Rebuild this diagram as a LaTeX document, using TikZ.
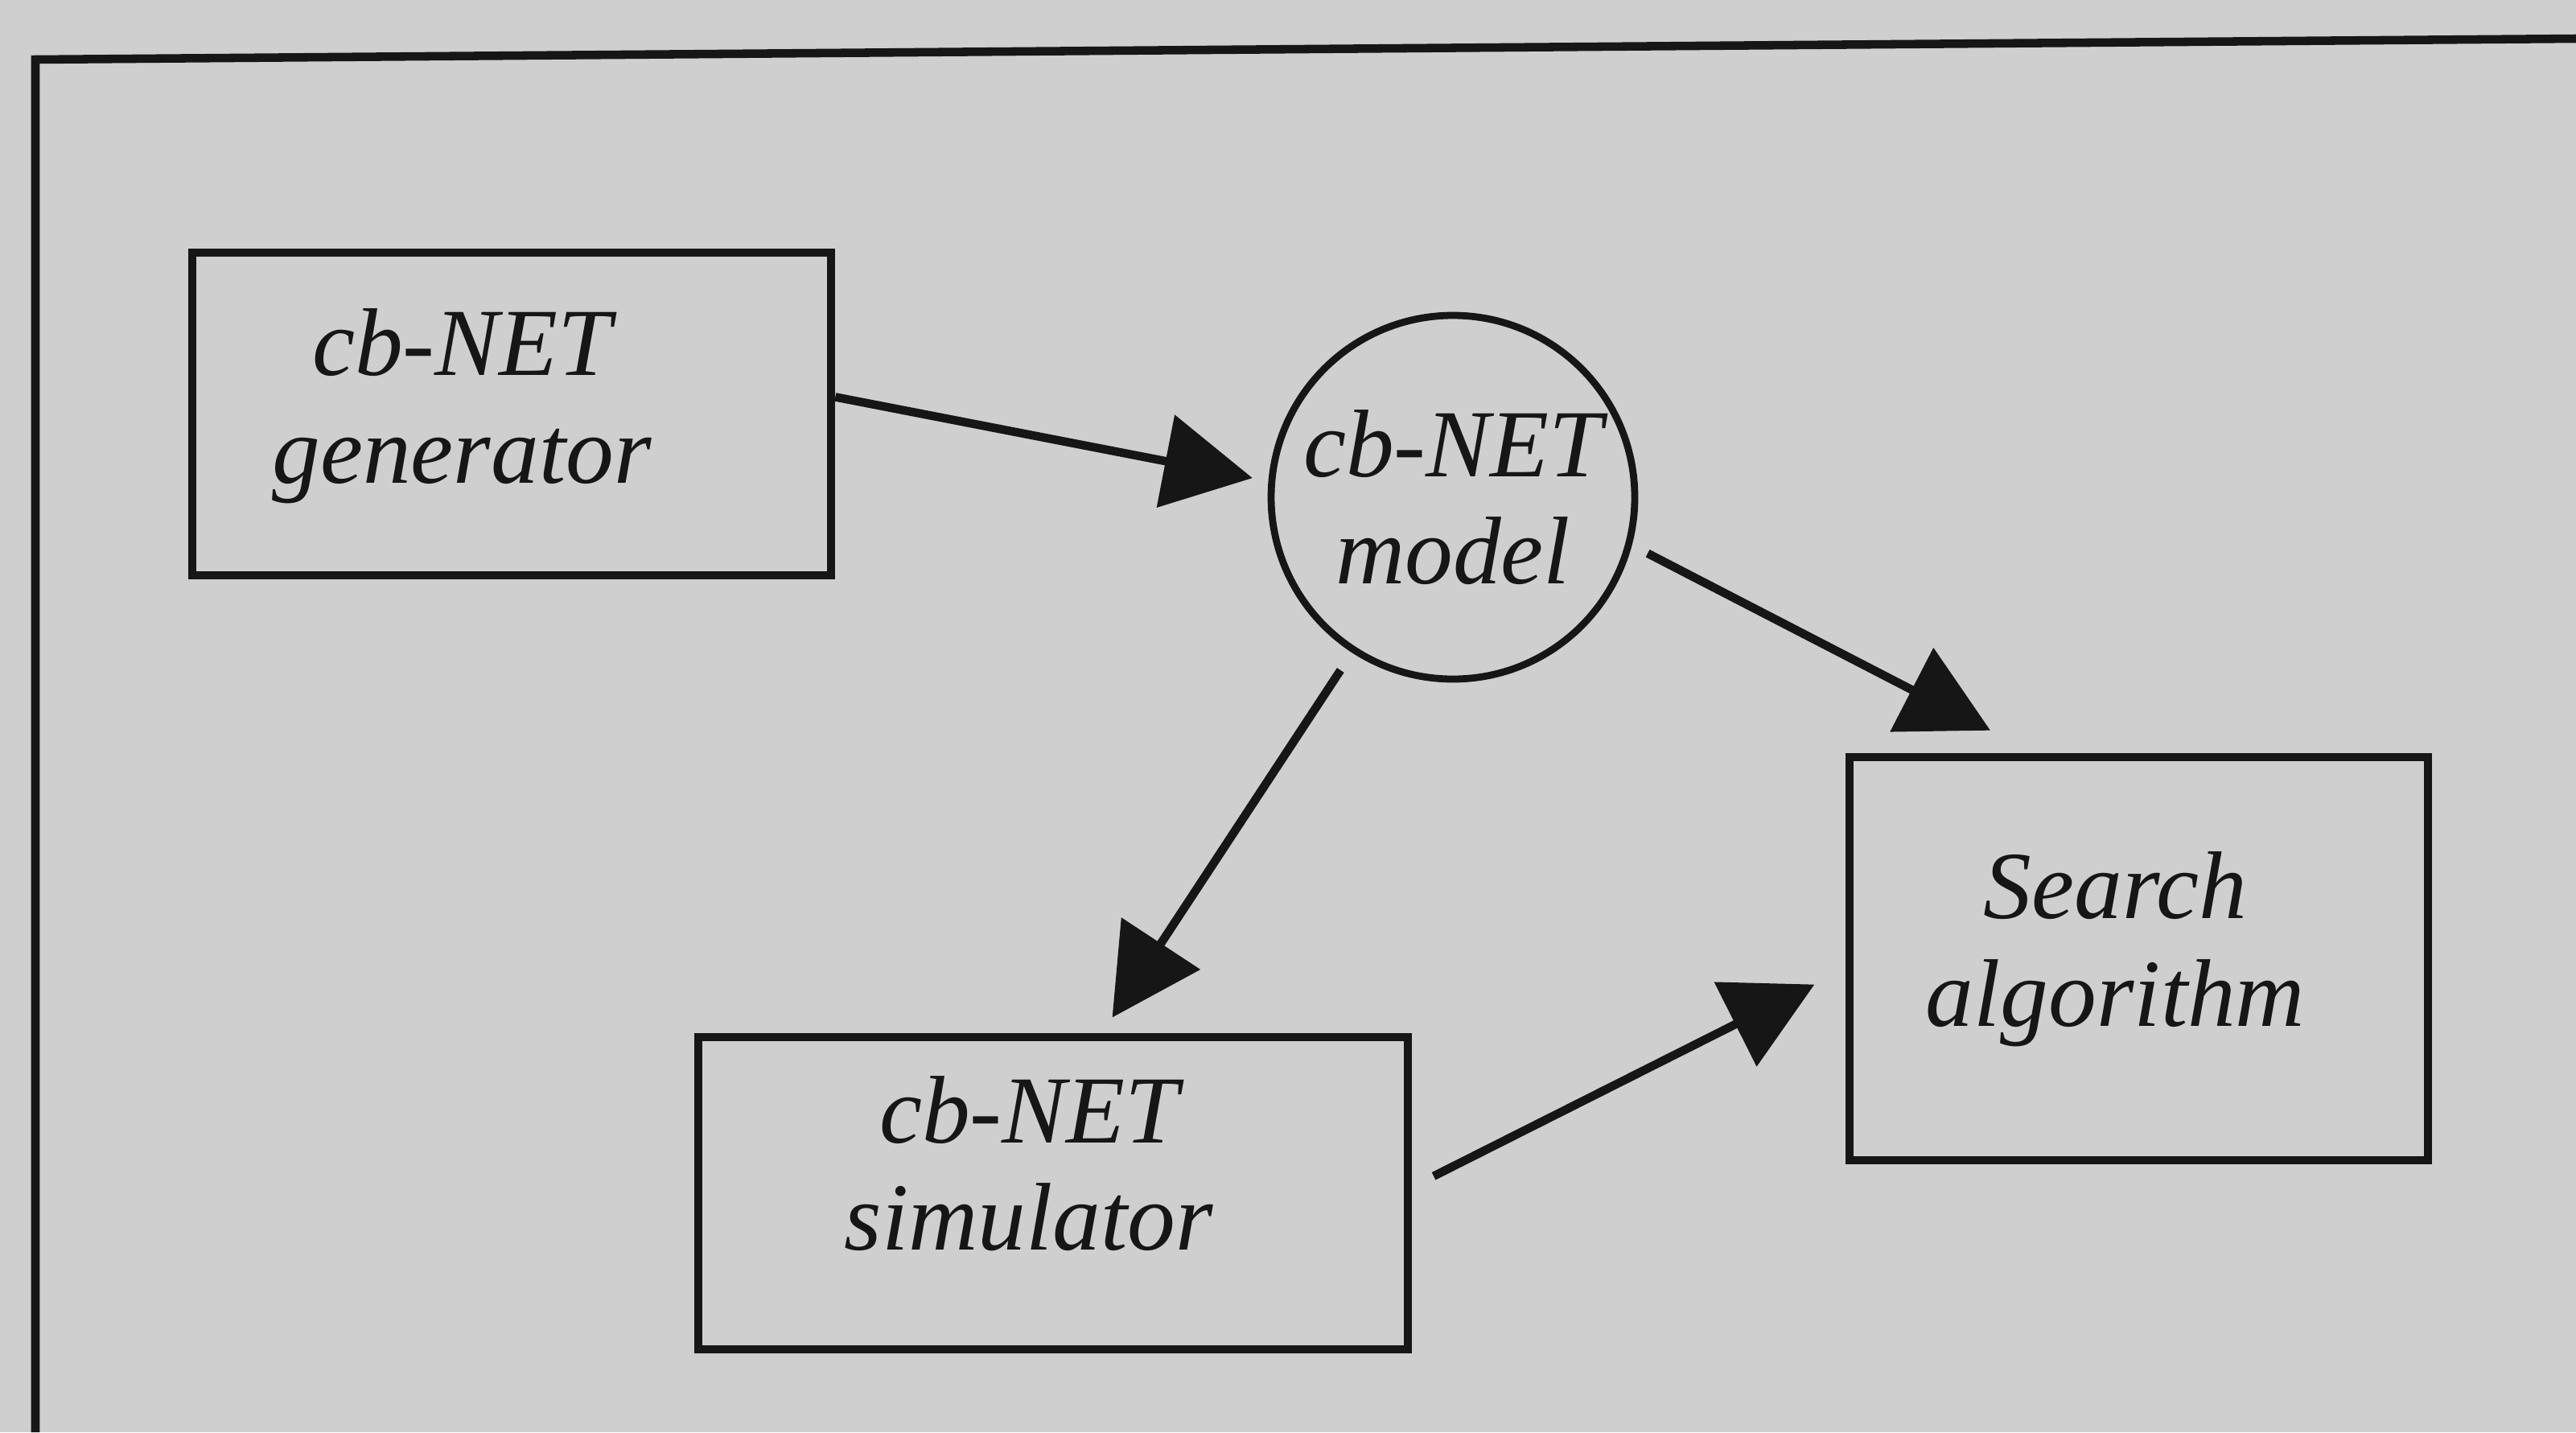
\documentclass[tikz,border=0pt]{standalone}
\usepackage{fontspec}
\setmainfont{Liberation Serif}
\usetikzlibrary{arrows.meta,positioning}
\definecolor{scan}{RGB}{207,207,207}
\definecolor{ink}{RGB}{22,22,22}

\begin{document}
\begin{tikzpicture}[>={Triangle[length=11mm,width=11.5mm]},
 font=\fontsize{34}{38}\selectfont\itshape,
 box/.style={draw=ink,line width=3pt,inner sep=0pt},
 txt/.style={align=center,text=ink},
 arr/.style={->,draw=ink,line width=3pt}]
 \fill[scan] (0,0) rectangle (32.02,-17.80);
 \useasboundingbox (0,0) rectangle (32.02,-17.80);
 \draw[ink,line width=3pt] (0.44,-17.80) -- (0.44,-0.74) -- (32.02,-0.48);
 \node[box,minimum width=7.94cm,minimum height=4.01cm,
   label={[txt,xshift=-6.2mm,yshift=1mm]center:{cb-NET\\generator}}] (gen) at (6.36,-5.145) {};
 \node[box,circle,line width=2.5pt,minimum size=4.52cm,txt] (model) at (18.06,-6.18) {cb-NET\\model};
 \node[box,minimum width=8.82cm,minimum height=3.88cm,
   label={[txt,xshift=-3mm,yshift=3.7mm]center:{cb-NET\\simulator}}] (sim) at (13.09,-14.83) {};
 \node[box,minimum width=7.19cm,minimum height=5.01cm,
   label={[txt,xshift=-2.9mm,yshift=1.2mm]center:{Search\\algorithm}}] (search) at (26.585,-11.915) {};
 \draw[arr,shorten >=2mm] (gen.3) -- (model.175);
 \draw[arr,shorten <=2.2mm,shorten >=6.1mm] (model.-15) -- (search.117);
 \draw[arr,shorten <=2.6mm,shorten >=2.3mm] (model.237) -- (sim.73);
 \draw[arr,shorten <=3mm,shorten >=4.3mm] (sim.1) -- (search.182);
\end{tikzpicture}
\end{document}
